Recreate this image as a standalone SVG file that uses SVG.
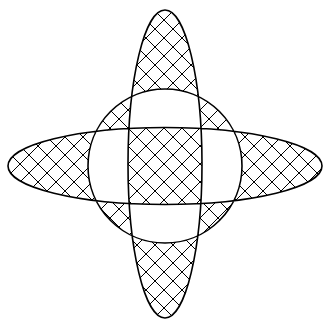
<svg xmlns="http://www.w3.org/2000/svg" width="323" height="320" viewBox="0 0 323 320">
  <defs>
    <pattern id="hatch" patternUnits="userSpaceOnUse" width="18" height="18" x="2" y="2">
      <path d="M0,0 L18,18 M0,18 L18,0" stroke="#000" stroke-width="1" fill="none"/>
    </pattern>
  </defs>
  <style>
    .shape { fill: url(#hatch); fill-rule: evenodd; stroke: #000; stroke-width: 1.6; }
  </style>
  <rect width="323" height="320" fill="#fff"/>
  <g id="figure">
    <path class="shape" d="M128,164 a37,154 0 1 0 74,0 a37,154 0 1 0 -74,0 Z M8,166 a157,38.5 0 1 0 314,0 a157,38.5 0 1 0 -314,0 Z M88,166 a77,77 0 1 0 154,0 a77,77 0 1 0 -154,0 Z"/>
  </g>
</svg>
